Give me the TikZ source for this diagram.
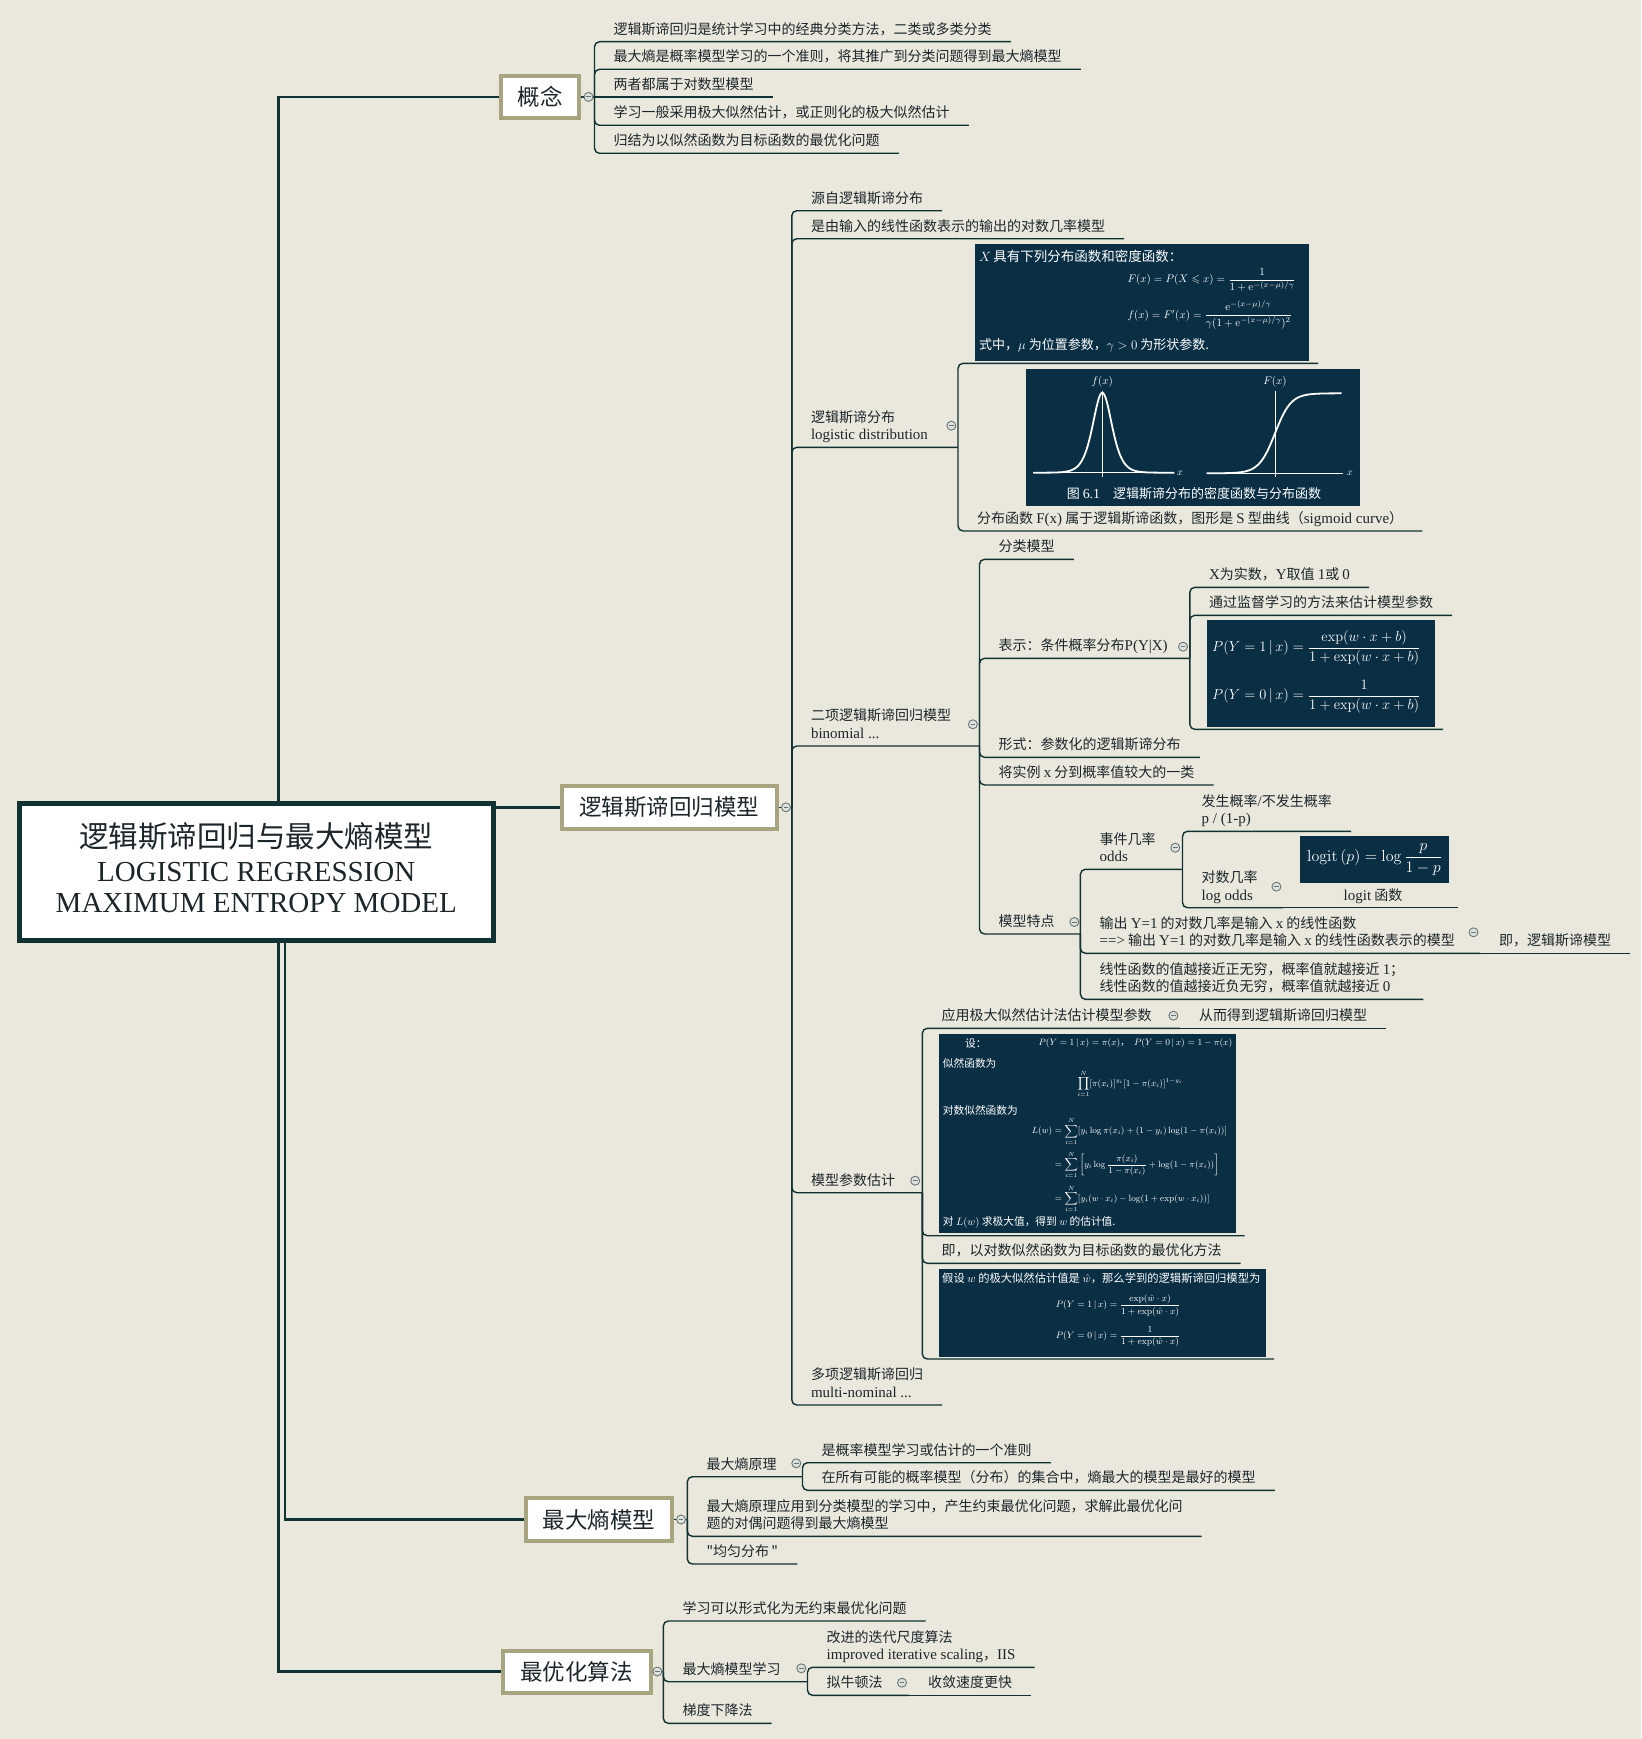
\RequirePackage{fix-cm}
\documentclass[tikz,border=0pt]{standalone}
\usepackage{tikz}
\usepackage{amsmath,amssymb}
\usepackage[no-math]{fontspec}
\setmainfont{Noto Sans CJK SC}[Ligatures=TeXOff]
\newfontfamily\enfont[Scale=1.07]{Liberation Serif}
\newcommand{\en}[1]{{\enfont #1}}
\definecolor{bgcol}{RGB}{234,232,220}
\definecolor{linecol}{RGB}{16,50,50}
\definecolor{navy}{RGB}{10,47,68}
\definecolor{khaki}{RGB}{168,164,128}
\definecolor{ink}{RGB}{28,38,42}
\definecolor{togglecol}{RGB}{105,118,120}
\definecolor{togglebg}{RGB}{222,224,218}
\pgfdeclarelayer{paper}
\pgfdeclarelayer{links}
\pgfsetlayers{paper,links,main}

\begin{document}
\begin{tikzpicture}[x=1pt,y=-1pt,
  leaf/.style={anchor=south west,inner xsep=19pt,inner ysep=2pt,align=left,text=ink,
    font=\fontsize{14}{17.7}\selectfont,execute at end node=\strut},
  topic/.style={draw=khaki,line width=4pt,fill=white,text=ink,inner sep=0pt,
    font=\fontsize{22.5}{27}\selectfont},
  rootbox/.style={draw=linecol,line width=5pt,fill=white},
  link/.style={draw=linecol,line width=1.4pt,rounded corners=5pt},
  trunk/.style={draw=linecol,line width=2.4pt},
  darkbox/.style={fill=navy,inner sep=0pt,anchor=north west},
  boxtxt/.style={text=white,inner sep=0pt,font=\fontsize{11}{13}\selectfont},
  curve/.style={white,line width=1.8pt,line join=round},
  axisline/.style={white,line width=0.8pt},
  toggle/.style={circle,draw=togglecol,fill=togglebg,line width=0.9pt,minimum size=9pt,inner sep=0pt,
    path picture={\draw[togglecol,line width=0.9pt]
      ([xshift=-2.4pt]path picture bounding box.center) -- ([xshift=2.4pt]path picture bounding box.center);}}]
\begin{pgfonlayer}{paper}
  \fill[bgcol] (0,0) rectangle (1641,1739);
\end{pgfonlayer}
\useasboundingbox (0,0) rectangle (1641,1739);

% 中心主题
\node[rootbox,minimum width=474,minimum height=137] (root) at (256.3,871.7) {};
\node[anchor=base,inner sep=0pt,text=ink,font=\fontsize{29.5}{32}\selectfont] (root-cn) at (256.3,847.9) {逻辑斯谛回归与最大熵模型};
\node[anchor=base,inner sep=0pt,text=ink,font=\enfont\fontsize{27.1}{32}\selectfont] (root-en1) at (256.3,881.3) {LOGISTIC REGRESSION};
\node[anchor=base,inner sep=0pt,text=ink,font=\enfont\fontsize{27.1}{32}\selectfont] (root-en2) at (256.3,912.9) {MAXIMUM ENTROPY MODEL};

% 一级主题
\node[topic,minimum width=77.7,minimum height=42.7] (gn) at (540,96.9) {概念};
\node[topic,minimum width=215.4,minimum height=42.7] (lr) at (669.3,807.3) {逻辑斯谛回归模型};
\node[topic,minimum width=145.5,minimum height=43] (me) at (599,1519.5) {最大熵模型};
\node[topic,minimum width=148,minimum height=42] (opt) at (576.5,1671.5) {最优化算法};

% 概念
\coordinate (gn-b) at (594.5,96.9);
\node[leaf] (gn1) at (594.5,41.7) {逻辑斯谛回归是统计学习中的经典分类方法，二类或多类分类};
\node[leaf] (gn2) at (594.5,69.3) {最大熵是概率模型学习的一个准则，将其推广到分类问题得到最大熵模型};
\node[leaf] (gn3) at (594.5,96.9) {两者都属于对数型模型};
\node[leaf] (gn4) at (594.5,125.3) {学习一般采用极大似然估计，或正则化的极大似然估计};
\node[leaf] (gn5) at (594.5,153.3) {归结为以似然函数为目标函数的最优化问题};

% 逻辑斯谛回归模型
\coordinate (lr-b) at (791.8,807.3);
\node[leaf] (lr1) at (791.8,210.7) {源自逻辑斯谛分布};
\node[leaf] (lr2) at (791.8,238.7) {是由输入的线性函数表示的输出的对数几率模型};
\node[leaf] (lgd) at (791.8,447.3) {逻辑斯谛分布\\\en{logistic distribution}};
\node[leaf] (bin) at (791.8,746) {二项逻辑斯谛回归模型\\\en{binomial ...}};
\node[leaf] (est) at (791.8,1192.7) {模型参数估计};
\node[leaf] (mul) at (791.8,1405) {多项逻辑斯谛回归\\\en{multi-nominal ...}};

% 逻辑斯谛分布：公式图与曲线图
\coordinate (lgd-b) at (958,447.3);
\node[darkbox,minimum width=334.1,minimum height=117.4] (fdens) at (974.9,243.3) {};
\node[boxtxt,anchor=west,font=\fontsize{13.5}{15}\selectfont] (fdens-t1) at (979,256) {$X$\,具有下列分布函数和密度函数：};
\node[boxtxt,anchor=west] (fdens-t2) at (1127.3,280) {$F(x)=P(X\leqslant x)=\dfrac{1}{1+\mathrm{e}^{-(x-\mu)/\gamma}}$};
\node[boxtxt,anchor=west] (fdens-t3) at (1127.3,315) {$f(x)=F'(x)=\dfrac{\mathrm{e}^{-(x-\mu)/\gamma}}{\gamma(1+\mathrm{e}^{-(x-\mu)/\gamma})^2}$};
\node[boxtxt,anchor=west,font=\fontsize{13}{15}\selectfont] (fdens-t4) at (979,345.7) {式中，$\mu$ 为位置参数，$\gamma>0$ 为形状参数.};
\coordinate (fdens-e) at (1318,363.3);

\node[darkbox,minimum width=334.6,minimum height=137.4] (fplot) at (1025.4,368.3) {};
\draw[axisline] (1033,472.7) -- (1174,472.7);
\draw[axisline] (1102.3,391) -- (1102.3,476.5);
\draw[curve] plot[domain=-69:72,samples=120,smooth] ({1102.3+\x},{472.7-80*(1/cosh(\x/12.8))^2});
\draw[axisline] (1206.7,473.3) -- (1343.3,473.3);
\draw[axisline] (1275,391) -- (1275,476.5);
\draw[curve] plot[domain=-68.3:66.7,samples=120,smooth] ({1275+\x},{473.3-80*(1+tanh(\x/16))/2});
\node[boxtxt] (fplot-f) at (1102.3,382) {$f(x)$};
\node[boxtxt] (fplot-F) at (1275,382) {$F(x)$};
\node[boxtxt,font=\fontsize{10}{12}\selectfont] (fplot-x1) at (1180,473) {$x$};
\node[boxtxt,font=\fontsize{10}{12}\selectfont] (fplot-x2) at (1350,473) {$x$};
\node[boxtxt,font=\fontsize{13}{15}\selectfont] (fplot-cap) at (1194,494) {图 \en{6.1}\quad 逻辑斯谛分布的密度函数与分布函数};
\node[leaf] (lgdtxt) at (958,531) {分布函数 \en{F(x)} 属于逻辑斯谛函数，图形是 \en{S} 型曲线（\en{sigmoid curve}）};

% 二项逻辑斯谛回归模型
\coordinate (bin-b) at (979.5,746);
\node[leaf] (cls) at (979.5,559.3) {分类模型};
\node[leaf] (rep) at (979.5,658.3) {表示：条件概率分布\en{P(Y|X)}};
\node[leaf] (form) at (979.5,757.3) {形式：参数化的逻辑斯谛分布};
\node[leaf] (inst) at (979.5,785) {将实例 \en{x} 分到概率值较大的一类};
\node[leaf] (feat) at (979.5,934) {模型特点};

\coordinate (rep-b) at (1189.8,658.3);
\node[leaf] (xr) at (1189.8,587.3) {\en{X}为实数，\en{Y}取值 \en{1}或 \en{0}};
\node[leaf] (superv) at (1189.8,615.3) {通过监督学习的方法来估计模型参数};
\node[darkbox,minimum width=227.7,minimum height=106.7] (cond) at (1207.2,620) {};
\node[boxtxt,anchor=west,font=\fontsize{14.5}{17}\selectfont] (cond-t) at (1212,672) {$\begin{aligned}P(Y=1\,|\,x)&=\frac{\exp(w\cdot x+b)}{1+\exp(w\cdot x+b)}\\[11pt]P(Y=0\,|\,x)&=\frac{1}{1+\exp(w\cdot x+b)}\end{aligned}$};
\coordinate (cond-e) at (1443,729.3);

% 模型特点
\coordinate (feat-b) at (1080.4,934);
\node[leaf] (odds) at (1080.4,869.3) {事件几率\\\en{odds}};
\node[leaf] (lin) at (1080.4,953.3) {输出 \en{Y=1} 的对数几率是输入 \en{x} 的线性函数\\\en{==>} 输出 \en{Y=1} 的对数几率是输入 \en{x} 的线性函数表示的模型};
\node[leaf] (lim) at (1080.4,999.3) {线性函数的值越接近正无穷，概率值就越接近 \en{1}；\\线性函数的值越接近负无穷，概率值就越接近 \en{0}};
\coordinate (lin-b) at (1480,953.3);
\node[leaf] (lin2) at (1480,953.3) {即，逻辑斯谛模型};

\coordinate (odds-b) at (1182.5,869.3);
\node[leaf] (ratio) at (1182.5,831.3) {发生概率\en{/}不发生概率\\\en{p / (1-p)}};
\node[leaf] (lodds) at (1182.5,907.7) {对数几率\\\en{log odds}};
\coordinate (lodds-b) at (1283,907.7);
\node[darkbox,minimum width=148.8,minimum height=46.7] (logit) at (1300,836) {};
\node[boxtxt,font=\fontsize{16}{19}\selectfont] (logit-t) at (logit.center) {$\mathrm{logit}\,(p)=\log\dfrac{p}{1-p}$};
\node[leaf,anchor=south,inner xsep=0pt] (logitlbl) at (1373,907.7) {\en{logit} 函数};
\coordinate (logit-e) at (1458,907.7);

% 模型参数估计
\coordinate (est-b) at (922.3,1192.7);
\node[leaf] (mle) at (922.3,1028.3) {应用极大似然估计法估计模型参数};
\coordinate (mle-b) at (1180,1028.3);
\node[leaf] (mle2) at (1180,1028.3) {从而得到逻辑斯谛回归模型};
\node[darkbox,minimum width=296.5,minimum height=199.4] (lik) at (939,1033.3) {};
\node[boxtxt,anchor=west,font=\fontsize{10.7}{13}\selectfont] (lik-t1) at (965,1043.3) {设：};
\node[boxtxt,anchor=west,font=\fontsize{9.2}{11}\selectfont] (lik-t2) at (1038.3,1043.3) {$P(Y=1\,|\,x)=\pi(x)$，\enspace$P(Y=0\,|\,x)=1-\pi(x)$};
\node[boxtxt,anchor=west,font=\fontsize{10.7}{13}\selectfont] (lik-t3) at (942.7,1063.3) {似然函数为};
\node[boxtxt,font=\fontsize{9}{11}\selectfont] (lik-t4) at (1130,1084) {$\displaystyle\prod_{i=1}^{N}[\pi(x_i)]^{y_i}[1-\pi(x_i)]^{1-y_i}$};
\node[boxtxt,anchor=west,font=\fontsize{10.7}{13}\selectfont] (lik-t5) at (942.7,1110) {对数似然函数为};
\node[boxtxt,anchor=west,font=\fontsize{9}{11}\selectfont] (lik-t6) at (1031.7,1165) {$\begin{aligned}L(w)&=\sum_{i=1}^{N}[y_i\log\pi(x_i)+(1-y_i)\log(1-\pi(x_i))]\\[2pt]&=\sum_{i=1}^{N}\left[y_i\log\frac{\pi(x_i)}{1-\pi(x_i)}+\log(1-\pi(x_i))\right]\\[2pt]&=\sum_{i=1}^{N}[y_i(w\cdot x_i)-\log(1+\exp(w\cdot x_i))]\end{aligned}$};
\node[boxtxt,anchor=west,font=\fontsize{10.7}{13}\selectfont] (lik-t7) at (942.7,1222.7) {对 $L(w)$ 求极大值，得到 $w$ 的估计值.};
\coordinate (lik-e) at (1244.6,1235.7);
\node[leaf] (optm) at (922.3,1263.3) {即，以对数似然函数为目标函数的最优化方法};
\node[darkbox,minimum width=326.5,minimum height=88.4] (fin) at (939,1268.3) {};
\node[boxtxt,anchor=west,font=\fontsize{11.3}{13}\selectfont] (fin-t1) at (942,1278.3) {假设 $w$ 的极大似然估计值是 $\hat{w}$，那么学到的逻辑斯谛回归模型为};
\node[boxtxt,anchor=west,font=\fontsize{9.3}{11}\selectfont] (fin-t2) at (1055.6,1321) {$\begin{aligned}P(Y=1\,|\,x)&=\frac{\exp(\hat{w}\cdot x)}{1+\exp(\hat{w}\cdot x)}\\[6pt]P(Y=0\,|\,x)&=\frac{1}{1+\exp(\hat{w}\cdot x)}\end{aligned}$};
\coordinate (fin-e) at (1274,1359);

% 最大熵模型
\coordinate (me-b) at (687.3,1519.5);
\node[leaf] (mep) at (687.3,1476.7) {最大熵原理};
\node[leaf] (meapp) at (687.3,1536.3) {最大熵原理应用到分类模型的学习中，产生约束最优化问题，求解此最优化问\\题的对偶问题得到最大熵模型};
\node[leaf] (unif) at (687.3,1564) {"均匀分布\,"};
\coordinate (mep-b) at (802.5,1476.7);
\node[leaf] (mp1) at (802.5,1462.7) {是概率模型学习或估计的一个准则};
\node[leaf] (mp2) at (802.5,1490.3) {在所有可能的概率模型（分布）的集合中，熵最大的模型是最好的模型};

% 最优化算法
\coordinate (opt-b) at (663.3,1671.5);
\node[leaf] (op1) at (663.3,1621) {学习可以形式化为无约束最优化问题};
\node[leaf] (mel) at (663.3,1681.7) {最大熵模型学习};
\node[leaf] (gd) at (663.3,1723.3) {梯度下降法};
\coordinate (mel-b) at (807.5,1681.7);
\node[leaf] (iis) at (807.5,1667.3) {改进的迭代尺度算法\\\en{improved iterative scaling}，\en{IIS}};
\node[leaf] (bfgs) at (807.5,1695.3) {拟牛顿法};
\coordinate (bfgs-b) at (909,1695.3);
\node[leaf] (bfgs2) at (909,1695.3) {收敛速度更快};

% 连线
\begin{pgfonlayer}{links}
  \draw[trunk] ([xshift=22pt]root.north) |- (gn.west);
  \draw[trunk] (root.east |- lr.west) -- (lr.west);
  \draw[trunk] ([xshift=28.7pt]root.south) |- (me.west);
  \draw[trunk] ([xshift=22pt]root.south) |- (opt.west);
  \draw[link] (gn.east) -- (gn-b);
  \draw[link] (lr.east) -- (lr-b);
  \draw[link] (me.east) -- (me-b);
  \draw[link] (opt.east) -- (opt-b);
  \foreach \n in {gn1,gn2,gn4,gn5} \draw[link] (gn-b) |- (\n.south east);
  \draw[link] (gn-b) -- (gn3.south east);
  \foreach \n in {lr1,lr2,mul} \draw[link] (lr-b) |- (\n.south east);
  \foreach \n in {lgd,bin,est} \draw[link] (lr-b) |- (\n-b);
  \draw[link] (lgd-b) |- (fdens-e);
  \draw[link] (lgd-b) |- (lgdtxt.south east);
  \foreach \n in {cls,form,inst} \draw[link] (bin-b) |- (\n.south east);
  \foreach \n in {rep,feat} \draw[link] (bin-b) |- (\n-b);
  \foreach \n in {xr,superv} \draw[link] (rep-b) |- (\n.south east);
  \draw[link] (rep-b) |- (cond-e);
  \draw[link] (feat-b) |- (odds-b);
  \draw[link] (feat-b) |- (lin-b);
  \draw[link] (feat-b) |- (lim.south east);
  \draw[link] (lin-b) -- (lin2.south east);
  \draw[link] (odds-b) |- (ratio.south east);
  \draw[link] (odds-b) |- (lodds-b);
  \draw[link] (lodds-b) -- (logit-e);
  \draw[link] (est-b) |- (mle-b);
  \draw[link] (mle-b) -- (mle2.south east);
  \draw[link] (est-b) |- (lik-e);
  \draw[link] (est-b) |- (optm.south east);
  \draw[link] (est-b) |- (fin-e);
  \foreach \n in {meapp,unif} \draw[link] (me-b) |- (\n.south east);
  \draw[link] (me-b) |- (mep-b);
  \foreach \n in {mp1,mp2} \draw[link] (mep-b) |- (\n.south east);
  \foreach \n in {op1,gd} \draw[link] (opt-b) |- (\n.south east);
  \draw[link] (opt-b) |- (mel-b);
  \draw[link] (mel-b) |- (iis.south east);
  \draw[link] (mel-b) |- (bfgs-b);
  \draw[link] (bfgs-b) -- (bfgs2.south east);
\end{pgfonlayer}

% 折叠标记
\node[toggle] (gn-t) at (588.5,96.9) {};
\node[toggle] (lr-t) at (786,807.3) {};
\node[toggle] (me-t) at (681,1519.5) {};
\node[toggle] (opt-t) at (657.3,1671.5) {};
\node[toggle] (lgd-t) at (951.3,425.7) {};
\node[toggle] (bin-t) at (972.9,724.3) {};
\node[toggle] (est-t) at (915.2,1180.7) {};
\node[toggle] (rep-t) at (1183,646.7) {};
\node[toggle] (feat-t) at (1074.3,922) {};
\node[toggle] (odds-t) at (1175.3,847.7) {};
\node[toggle] (lodds-t) at (1276.4,886.7) {};
\node[toggle] (lin-t) at (1473.5,932.3) {};
\node[toggle] (mle-t) at (1173.4,1015.7) {};
\node[toggle] (mep-t) at (796.3,1463.3) {};
\node[toggle] (mel-t) at (801.3,1668.3) {};
\node[toggle] (bfgs-t) at (902,1682.7) {};
\end{tikzpicture}
\end{document}
